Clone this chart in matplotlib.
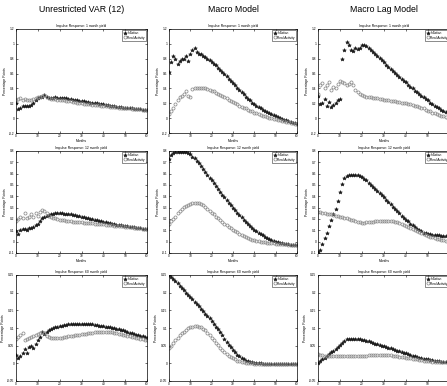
import matplotlib
matplotlib.use("Agg")
import matplotlib.pyplot as plt
import numpy as np

plt.rcParams['font.family'] = ['Liberation Sans', 'DejaVu Sans']

months = list(range(0, 61))
col_titles = ["Unrestricted VAR (12)", "Macro Model", "Macro Lag Model"]
row_titles = ["Impulse Response: 1 month yield",
              "Impulse Response: 12 month yield",
              "Impulse Response: 60 month yield"]
legend_labels = ["Inflation", "Real Activity"]
x_label = "Months"
y_label = "Percentage Points"
row_ylims = [(-0.2, 1.2), (-0.1, 0.8), (-0.05, 0.25)]
row_yticks = [[-0.2, 0, 0.2, 0.4, 0.6, 0.8, 1, 1.2],
              [-0.1, 0, 0.1, 0.2, 0.3, 0.4, 0.5, 0.6, 0.7, 0.8],
              [-0.05, 0, 0.05, 0.1, 0.15, 0.2, 0.25]]
x_ticks = [0, 10, 20, 30, 40, 50, 60]

# ---- Row 1: 1 month yield ----
var_1m_infl = [0.20, 0.12, 0.14, 0.16, 0.17, 0.17, 0.17, 0.18, 0.20, 0.24, 0.27, 0.28, 0.29, 0.31, 0.28,
               0.27, 0.27, 0.275, 0.28, 0.275, 0.27, 0.27, 0.265, 0.265, 0.26, 0.255, 0.25, 0.245, 0.24, 0.235,
               0.23, 0.225, 0.22, 0.215, 0.21, 0.205, 0.20, 0.20, 0.195, 0.19, 0.185, 0.18, 0.175, 0.17, 0.165,
               0.16, 0.155, 0.15, 0.147, 0.143, 0.14, 0.136, 0.133, 0.13, 0.127, 0.124, 0.121, 0.118, 0.115, 0.112, 0.11]
var_1m_real = [0.24, 0.26, 0.27, 0.24, 0.26, 0.25, 0.24, 0.25, 0.26, 0.27, 0.28, 0.29, 0.30, 0.31, 0.29,
               0.265, 0.26, 0.255, 0.255, 0.25, 0.25, 0.245, 0.24, 0.235, 0.23, 0.225, 0.22, 0.215, 0.21, 0.205,
               0.20, 0.197, 0.193, 0.19, 0.186, 0.182, 0.178, 0.175, 0.171, 0.168, 0.164, 0.161, 0.158, 0.155, 0.152,
               0.149, 0.146, 0.143, 0.14, 0.137, 0.135, 0.132, 0.13, 0.127, 0.125, 0.122, 0.12, 0.117, 0.115, 0.112, 0.11]
macro_1m_infl = [0.62, 0.75, 0.84, 0.80, 0.73, 0.77, 0.80, 0.79, 0.84, 0.77, 0.86, 0.92, 0.95, 0.89, 0.87,
                 0.86, 0.84, 0.82, 0.80, 0.78, 0.76, 0.73, 0.71, 0.68, 0.65, 0.62, 0.60, 0.57, 0.53, 0.50,
                 0.47, 0.44, 0.41, 0.38, 0.35, 0.32, 0.29, 0.26, 0.24, 0.21, 0.19, 0.17, 0.15, 0.13, 0.11,
                 0.10, 0.085, 0.07, 0.055, 0.04, 0.03, 0.015, 0.0, -0.01, -0.02, -0.03, -0.04, -0.05, -0.06, -0.07, -0.08]
macro_1m_real = [0.05, 0.10, 0.14, 0.19, 0.24, 0.28, 0.30, 0.33, 0.36, 0.30, 0.29, 0.39, 0.40, 0.40, 0.41,
                 0.41, 0.41, 0.40, 0.39, 0.38, 0.37, 0.36, 0.345, 0.33, 0.315, 0.30, 0.28, 0.265, 0.25, 0.23,
                 0.215, 0.20, 0.185, 0.17, 0.155, 0.14, 0.13, 0.115, 0.10, 0.09, 0.075, 0.065, 0.055, 0.045, 0.035,
                 0.025, 0.015, 0.007, 0.0, -0.01, -0.015, -0.022, -0.03, -0.035, -0.042, -0.05, -0.055, -0.062, -0.07, -0.075, -0.08]
lag_1m_infl = [0.30, 0.19, 0.20, 0.26, 0.16, 0.22, 0.15, 0.18, 0.20, 0.24, 0.26, 0.80, 0.92, 1.02, 0.98,
               0.92, 0.91, 0.94, 0.93, 0.94, 0.99, 0.98, 0.97, 0.95, 0.92, 0.89, 0.87, 0.84, 0.81, 0.78,
               0.75, 0.72, 0.69, 0.66, 0.64, 0.61, 0.58, 0.56, 0.53, 0.50, 0.48, 0.45, 0.42, 0.40, 0.37,
               0.35, 0.32, 0.30, 0.28, 0.26, 0.24, 0.21, 0.19, 0.17, 0.15, 0.13, 0.11, 0.09, 0.08, 0.06, 0.05]
lag_1m_real = [0.32, 0.44, 0.47, 0.41, 0.44, 0.48, 0.38, 0.42, 0.40, 0.46, 0.50, 0.49, 0.47, 0.45, 0.46,
               0.48, 0.44, 0.38, 0.35, 0.33, 0.31, 0.30, 0.29, 0.285, 0.28, 0.275, 0.27, 0.265, 0.26, 0.255,
               0.25, 0.245, 0.24, 0.235, 0.23, 0.225, 0.22, 0.215, 0.21, 0.205, 0.20, 0.195, 0.19, 0.18, 0.17,
               0.16, 0.15, 0.14, 0.13, 0.115, 0.10, 0.09, 0.075, 0.065, 0.055, 0.045, 0.035, 0.025, 0.015, 0.005, -0.005]

# ---- Row 2: 12 month yield ----
var_12m_infl = [0.09, 0.07, 0.10, 0.11, 0.11, 0.10, 0.12, 0.12, 0.13, 0.15, 0.16, 0.18, 0.21, 0.22, 0.23,
                0.235, 0.24, 0.245, 0.25, 0.25, 0.25, 0.25, 0.248, 0.246, 0.244, 0.24, 0.237, 0.233, 0.23, 0.226,
                0.222, 0.218, 0.213, 0.208, 0.203, 0.198, 0.193, 0.188, 0.183, 0.178, 0.174, 0.17, 0.166, 0.162, 0.158,
                0.154, 0.15, 0.147, 0.144, 0.141, 0.138, 0.135, 0.132, 0.129, 0.126, 0.123, 0.12, 0.117, 0.114, 0.112, 0.11]
var_12m_real = [0.18, 0.20, 0.22, 0.21, 0.25, 0.21, 0.22, 0.24, 0.22, 0.25, 0.23, 0.26, 0.28, 0.27, 0.25,
                0.23, 0.22, 0.21, 0.205, 0.20, 0.195, 0.19, 0.187, 0.184, 0.181, 0.178, 0.176, 0.174, 0.172, 0.171,
                0.17, 0.168, 0.167, 0.166, 0.164, 0.162, 0.16, 0.158, 0.156, 0.154, 0.152, 0.15, 0.148, 0.146, 0.144,
                0.142, 0.14, 0.138, 0.136, 0.134, 0.132, 0.13, 0.128, 0.126, 0.124, 0.122, 0.12, 0.118, 0.116, 0.113, 0.11]
macro_12m_infl = [0.73, 0.765, 0.78, 0.787, 0.79, 0.79, 0.79, 0.79, 0.787, 0.78, 0.77, 0.75, 0.735, 0.715, 0.69,
                  0.665, 0.64, 0.615, 0.59, 0.565, 0.54, 0.515, 0.49, 0.465, 0.44, 0.415, 0.39, 0.37, 0.345, 0.32,
                  0.30, 0.28, 0.255, 0.235, 0.215, 0.195, 0.175, 0.16, 0.14, 0.125, 0.107, 0.093, 0.08, 0.067, 0.055,
                  0.043, 0.033, 0.023, 0.015, 0.007, 0.0, -0.005, -0.01, -0.015, -0.018, -0.021, -0.024, -0.026, -0.028, -0.03, -0.032]
macro_12m_real = [0.16, 0.18, 0.20, 0.22, 0.25, 0.27, 0.29, 0.305, 0.315, 0.325, 0.333, 0.337, 0.34, 0.34, 0.337,
                  0.33, 0.32, 0.305, 0.29, 0.27, 0.255, 0.24, 0.22, 0.205, 0.19, 0.175, 0.16, 0.145, 0.13, 0.118,
                  0.105, 0.093, 0.082, 0.07, 0.06, 0.05, 0.04, 0.032, 0.025, 0.018, 0.012, 0.007, 0.003, 0.0, -0.004,
                  -0.007, -0.01, -0.012, -0.014, -0.016, -0.018, -0.02, -0.021, -0.022, -0.023, -0.024, -0.025, -0.026, -0.027, -0.028, -0.03]
lag_12m_infl = [-0.09, -0.07, -0.02, 0.03, 0.08, 0.14, 0.19, 0.24, 0.29, 0.36, 0.44, 0.51, 0.56, 0.58, 0.585,
                0.59, 0.59, 0.59, 0.585, 0.58, 0.57, 0.555, 0.54, 0.52, 0.50, 0.485, 0.465, 0.45, 0.43, 0.41,
                0.39, 0.37, 0.35, 0.33, 0.31, 0.29, 0.27, 0.25, 0.23, 0.21, 0.195, 0.18, 0.16, 0.145, 0.13,
                0.115, 0.10, 0.09, 0.08, 0.075, 0.07, 0.065, 0.062, 0.06, 0.058, 0.055, 0.052, 0.05, 0.048, 0.046, 0.045]
lag_12m_real = [0.26, 0.26, 0.255, 0.25, 0.247, 0.243, 0.24, 0.235, 0.23, 0.225, 0.22, 0.215, 0.21, 0.205, 0.20,
                0.195, 0.19, 0.183, 0.176, 0.17, 0.168, 0.168, 0.17, 0.172, 0.174, 0.176, 0.178, 0.18, 0.182, 0.183,
                0.184, 0.184, 0.183, 0.181, 0.178, 0.174, 0.17, 0.164, 0.157, 0.15, 0.142, 0.133, 0.124, 0.115, 0.105,
                0.095, 0.086, 0.077, 0.068, 0.06, 0.052, 0.045, 0.038, 0.032, 0.026, 0.021, 0.016, 0.012, 0.008, 0.005, 0.003]

# ---- Row 3: 60 month yield ----
var_60m_infl = [0.025, 0.015, 0.02, 0.03, 0.04, 0.03, 0.045, 0.05, 0.042, 0.055, 0.065, 0.075, 0.09, 0.082, 0.088,
                0.095, 0.097, 0.10, 0.102, 0.103, 0.105, 0.107, 0.108, 0.109, 0.11, 0.11, 0.111, 0.111, 0.111, 0.111,
                0.111, 0.111, 0.111, 0.11, 0.11, 0.11, 0.109, 0.108, 0.107, 0.106, 0.105, 0.104, 0.103, 0.102, 0.101,
                0.10, 0.098, 0.096, 0.095, 0.093, 0.091, 0.089, 0.087, 0.085, 0.083, 0.081, 0.079, 0.078, 0.076, 0.074, 0.072]
var_60m_real = [0.07, 0.075, 0.08, 0.085, 0.065, 0.07, 0.073, 0.075, 0.078, 0.08, 0.083, 0.087, 0.09, 0.085, 0.078,
                0.074, 0.072, 0.071, 0.071, 0.072, 0.072, 0.073, 0.074, 0.075, 0.076, 0.077, 0.078, 0.079, 0.08, 0.081,
                0.082, 0.083, 0.084, 0.085, 0.086, 0.087, 0.088, 0.089, 0.089, 0.09, 0.09, 0.09, 0.09, 0.089, 0.088,
                0.087, 0.086, 0.084, 0.083, 0.081, 0.08, 0.078, 0.077, 0.075, 0.074, 0.072, 0.071, 0.07, 0.068, 0.067, 0.066]
macro_60m_infl = [0.25, 0.245, 0.238, 0.232, 0.226, 0.22, 0.213, 0.207, 0.20, 0.194, 0.188, 0.181, 0.175, 0.168, 0.162,
                  0.155, 0.148, 0.141, 0.134, 0.127, 0.12, 0.112, 0.104, 0.096, 0.088, 0.079, 0.07, 0.061, 0.053, 0.045,
                  0.038, 0.031, 0.025, 0.02, 0.015, 0.011, 0.008, 0.006, 0.004, 0.003, 0.002, 0.001, 0.0, 0.0, -0.001,
                  -0.001, -0.001, -0.002, -0.002, -0.002, -0.002, -0.002, -0.002, -0.002, -0.002, -0.002, -0.002, -0.002, -0.002, -0.002, -0.002]
macro_60m_real = [0.044, 0.05, 0.057, 0.065, 0.072, 0.079, 0.085, 0.09, 0.095, 0.099, 0.102, 0.104, 0.105, 0.105, 0.104,
                  0.102, 0.098, 0.093, 0.087, 0.08, 0.073, 0.066, 0.058, 0.051, 0.044, 0.038, 0.032, 0.027, 0.022, 0.018,
                  0.014, 0.011, 0.008, 0.006, 0.004, 0.003, 0.002, 0.001, 0.0, 0.0, -0.001, -0.001, -0.001, -0.001, -0.001,
                  -0.001, -0.001, -0.001, -0.001, -0.001, -0.001, -0.001, -0.001, -0.001, -0.001, -0.001, -0.001, -0.001, -0.001, -0.001, -0.001]
lag_60m_infl = [0.0, 0.006, 0.011, 0.016, 0.021, 0.026, 0.031, 0.036, 0.041, 0.047, 0.052, 0.058, 0.063, 0.068, 0.069,
                0.069, 0.069, 0.069, 0.068, 0.068, 0.067, 0.066, 0.064, 0.062, 0.06, 0.058, 0.056, 0.054, 0.052, 0.05,
                0.048, 0.046, 0.044, 0.042, 0.04, 0.038, 0.036, 0.034, 0.032, 0.03, 0.028, 0.026, 0.024, 0.022, 0.02,
                0.018, 0.016, 0.015, 0.013, 0.012, 0.011, 0.01, 0.009, 0.008, 0.007, 0.006, 0.005, 0.004, 0.004, 0.003, 0.003]
lag_60m_real = [0.027, 0.025, 0.023, 0.022, 0.021, 0.021, 0.02, 0.02, 0.02, 0.02, 0.02, 0.02, 0.02, 0.02, 0.02,
                0.021, 0.021, 0.021, 0.021, 0.022, 0.022, 0.022, 0.022, 0.023, 0.023, 0.023, 0.024, 0.024, 0.024, 0.024,
                0.024, 0.024, 0.023, 0.023, 0.022, 0.021, 0.02, 0.019, 0.018, 0.017, 0.016, 0.015, 0.014, 0.013, 0.012,
                0.011, 0.01, 0.009, 0.008, 0.007, 0.006, 0.006, 0.005, 0.005, 0.004, 0.004, 0.003, 0.003, 0.003, 0.002, 0.002]

grid_infl = [[var_1m_infl, macro_1m_infl, lag_1m_infl],
             [var_12m_infl, macro_12m_infl, lag_12m_infl],
             [var_60m_infl, macro_60m_infl, lag_60m_infl]]
grid_real = [[var_1m_real, macro_1m_real, lag_1m_real],
             [var_12m_real, macro_12m_real, lag_12m_real],
             [var_60m_real, macro_60m_real, lag_60m_real]]

W, H = 447, 386
fig = plt.figure(figsize=(W / 100, H / 100), dpi=100)
fig.patch.set_facecolor('white')

col_px = [(16, 147), (169, 297), (318, 450)]
row_px = [(29, 133), (151, 253), (275, 381)]

def fmt(v):
    return '%g' % v

for r in range(3):
    for c in range(3):
        x0, x1 = col_px[c]
        y0, y1 = row_px[r]
        ax = fig.add_axes([x0 / W, 1 - y1 / H, (x1 - x0) / W, (y1 - y0) / H])
        ax.plot(months, grid_infl[r][c], linestyle='none', marker='*', markersize=2.8,
                color='#1a1a1a', markeredgewidth=0.4, label=legend_labels[0])
        ax.plot(months, grid_real[r][c], linestyle='none', marker='o', markersize=2.2,
                markerfacecolor='none', markeredgecolor='#8c8c8c', markeredgewidth=0.55,
                label=legend_labels[1])
        ax.set_xlim(0, 60)
        ax.set_ylim(*row_ylims[r])
        ax.set_xticks(x_ticks)
        ax.set_yticks(row_yticks[r])
        ax.set_xticklabels([str(t) for t in x_ticks])
        ax.set_yticklabels([fmt(t) for t in row_yticks[r]])
        ax.tick_params(direction='in', length=1.5, width=0.4, labelsize=2.3, pad=1,
                       top=True, right=True)
        for sp in ax.spines.values():
            sp.set_linewidth(0.5)
        ax.set_title(row_titles[r], fontsize=2.4, pad=1.5)
        ax.set_xlabel(x_label, fontsize=2.4, labelpad=0.8)
        ax.set_ylabel(y_label, fontsize=2.4, labelpad=1.5)
        leg = ax.legend(loc='upper right', fontsize=2.3, frameon=True, fancybox=False,
                        edgecolor='black', borderpad=0.3, handlelength=0.8,
                        handletextpad=0.4, labelspacing=0.1, borderaxespad=0.4,
                        markerscale=1.0)
        leg.get_frame().set_linewidth(0.4)

for c in range(3):
    x0, x1 = col_px[c]
    fig.text((x0 + x1) / 2 / W, 1 - 10 / H, col_titles[c], ha='center', va='center',
             fontsize=6.3)

fig.savefig('out.png', dpi=100)
